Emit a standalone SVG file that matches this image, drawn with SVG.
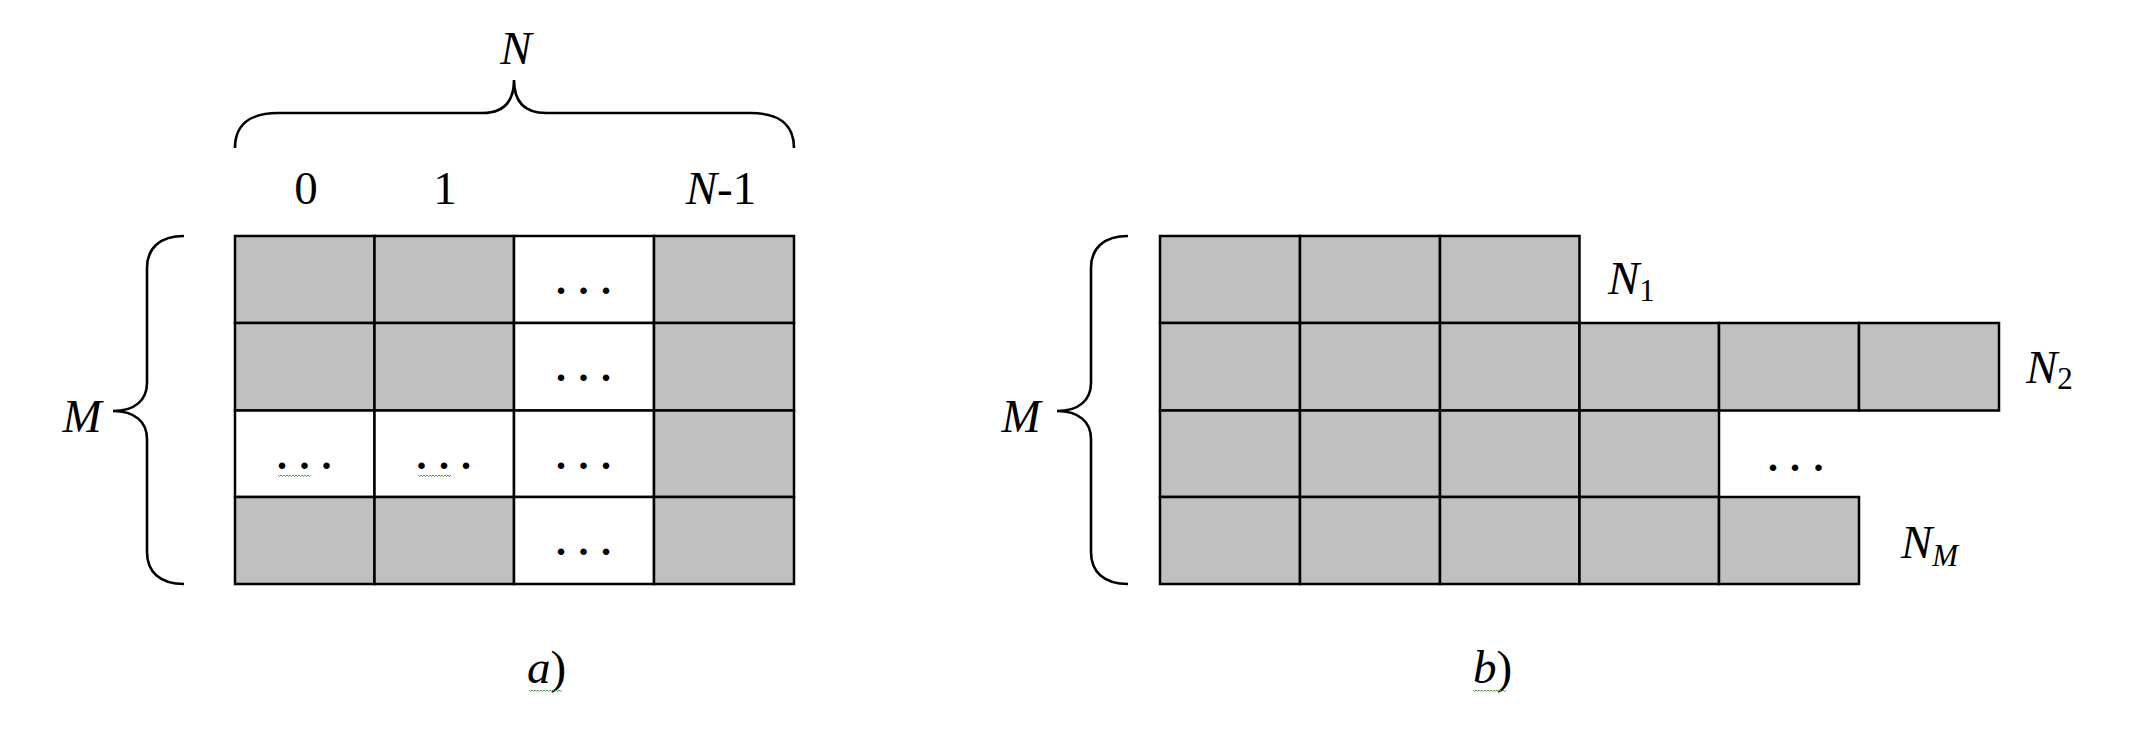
<svg xmlns="http://www.w3.org/2000/svg" width="2129" height="740" viewBox="0 0 2129 740">
<style>
.g{fill:#c0c0c0;stroke:#000;stroke-width:2.5}
.w{fill:#fff;stroke:#000;stroke-width:2.5}
.br{fill:none;stroke:#000;stroke-width:2.6}
.t{font-family:"Liberation Serif","Times New Roman",serif;font-size:47px;fill:#000}
.i{font-style:italic}
.sub{font-size:31px}
.d{font-family:"Liberation Serif","Times New Roman",serif;font-size:40px;font-weight:bold;fill:#000}
.sq{fill:none;stroke:#4f9a4f;stroke-width:1}
</style>
<defs>
<path id="brace" d="M184,236 C160,236 147,248 147,268 L147,383 C147,400 135,411 113,411 C135,411 147,422 147,439 L147,552 C147,572 160,584 184,584"/>
<path id="squig" d="M0,0 l1.5,1.5 l1.5,-1.5 l1.5,1.5 l1.5,-1.5 l1.5,1.5 l1.5,-1.5 l1.5,1.5 l1.5,-1.5 l1.5,1.5 l1.5,-1.5 l1.5,1.5 l1.5,-1.5 l1.5,1.5 l1.5,-1.5 l1.5,1.5 l1.5,-1.5 l1.5,1.5 l1.5,-1.5 l1.5,1.5 l1.5,-1.5 l1.5,1.5 l1.5,-1.5"/>
</defs>

<g id="diagram-a">
  <g id="a-grid">
    <rect class="g" x="235" y="236" width="139.5" height="87"/>
    <rect class="g" x="374.5" y="236" width="139.5" height="87"/>
    <rect class="w" x="514" y="236" width="140" height="87"/>
    <rect class="g" x="654" y="236" width="140" height="87"/>

    <rect class="g" x="235" y="323" width="139.5" height="87.5"/>
    <rect class="g" x="374.5" y="323" width="139.5" height="87.5"/>
    <rect class="w" x="514" y="323" width="140" height="87.5"/>
    <rect class="g" x="654" y="323" width="140" height="87.5"/>

    <rect class="w" x="235" y="410.5" width="139.5" height="86.5"/>
    <rect class="w" x="374.5" y="410.5" width="139.5" height="86.5"/>
    <rect class="w" x="514" y="410.5" width="140" height="86.5"/>
    <rect class="g" x="654" y="410.5" width="140" height="86.5"/>

    <rect class="g" x="235" y="497" width="139.5" height="87"/>
    <rect class="g" x="374.5" y="497" width="139.5" height="87"/>
    <rect class="w" x="514" y="497" width="140" height="87"/>
    <rect class="g" x="654" y="497" width="140" height="87"/>
  </g>
  <g id="a-dots">
    <text class="d" x="556 578.5 601" y="293.5">...</text>
    <text class="d" x="556 578.5 601" y="381">...</text>
    <text class="d" x="556 578.5 601" y="469">...</text>
    <text class="d" x="556 578.5 601" y="555">...</text>
    <text class="d" x="277 299.5 321.5" y="469">...</text>
    <text class="d" x="416.5 439 461" y="469">...</text>
    <use href="#squig" class="sq" x="278" y="475"/>
    <use href="#squig" class="sq" x="418" y="475"/>
  </g>
  <g id="a-top-brace">
    <path class="br" d="M235,148 C235,125 250,113 278,113 L482,113 C505,113 514,100 514,80 C514,100 523,113 546,113 L751,113 C779,113 794,125 794,148"/>
    <text class="t i" x="516" y="64" text-anchor="middle">N</text>
  </g>
  <g id="a-col-labels">
    <text class="t" x="306" y="204" text-anchor="middle">0</text>
    <text class="t" x="445" y="204" text-anchor="middle">1</text>
    <text class="t" x="721" y="204" text-anchor="middle"><tspan class="i">N</tspan>-1</text>
  </g>
  <g id="a-left-brace">
    <use href="#brace" class="br"/>
    <text class="t i" x="82" y="432" text-anchor="middle">M</text>
  </g>
  <g id="a-caption">
    <text class="t i" x="527" y="683">a<tspan font-style="normal">)</tspan></text>
    <use href="#squig" class="sq" x="529" y="690"/>
  </g>
</g>

<g id="diagram-b">
  <g id="b-grid">
    <rect class="g" x="1160" y="236" width="140" height="87"/>
    <rect class="g" x="1300" y="236" width="140" height="87"/>
    <rect class="g" x="1440" y="236" width="139.5" height="87"/>

    <rect class="g" x="1160" y="323" width="140" height="87.5"/>
    <rect class="g" x="1300" y="323" width="140" height="87.5"/>
    <rect class="g" x="1440" y="323" width="139.5" height="87.5"/>
    <rect class="g" x="1579.5" y="323" width="139.5" height="87.5"/>
    <rect class="g" x="1719" y="323" width="140" height="87.5"/>
    <rect class="g" x="1859" y="323" width="140" height="87.5"/>

    <rect class="g" x="1160" y="410.5" width="140" height="86.5"/>
    <rect class="g" x="1300" y="410.5" width="140" height="86.5"/>
    <rect class="g" x="1440" y="410.5" width="139.5" height="86.5"/>
    <rect class="g" x="1579.5" y="410.5" width="139.5" height="86.5"/>

    <rect class="g" x="1160" y="497" width="140" height="87"/>
    <rect class="g" x="1300" y="497" width="140" height="87"/>
    <rect class="g" x="1440" y="497" width="139.5" height="87"/>
    <rect class="g" x="1579.5" y="497" width="139.5" height="87"/>
    <rect class="g" x="1719" y="497" width="140" height="87"/>
  </g>
  <g id="b-dots">
    <text class="d" x="1768 1790 1813.5" y="471">...</text>
  </g>
  <g id="b-row-labels">
    <text class="t i" x="1608" y="294">N<tspan class="sub" font-style="normal" dy="7">1</tspan></text>
    <text class="t i" x="2026" y="383">N<tspan class="sub" font-style="normal" dy="6">2</tspan></text>
    <text class="t i" x="1901" y="558">N<tspan class="sub" dy="8">M</tspan></text>
  </g>
  <g id="b-left-brace">
    <use href="#brace" class="br" transform="translate(944,0)"/>
    <text class="t i" x="1021" y="432" text-anchor="middle">M</text>
  </g>
  <g id="b-caption">
    <text class="t i" x="1473" y="683">b<tspan font-style="normal">)</tspan></text>
    <use href="#squig" class="sq" x="1473" y="690"/>
  </g>
</g>
</svg>
